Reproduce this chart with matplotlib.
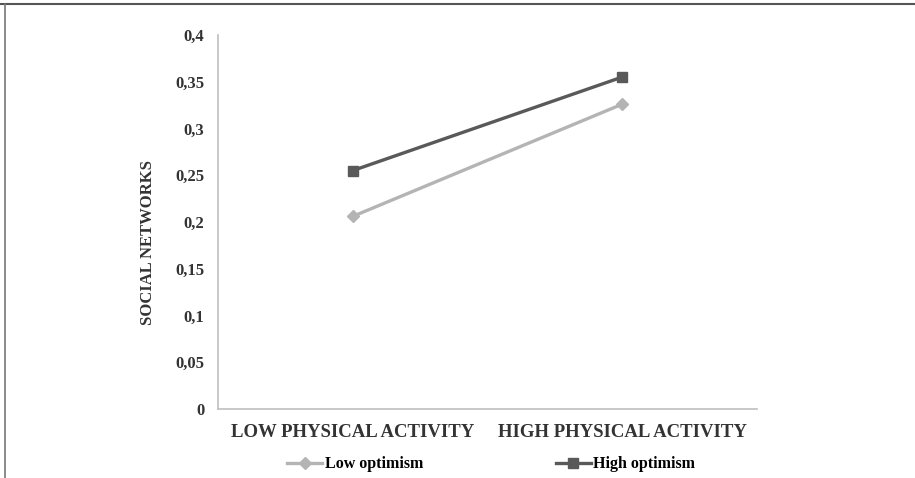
import numpy as np
import matplotlib.pyplot as plt
from matplotlib.lines import Line2D

categories = ['LOW PHYSICAL ACTIVITY', 'HIGH PHYSICAL ACTIVITY']
low_opt = [0.206, 0.326]
high_opt = [0.255, 0.355]
yticks = [0, 0.05, 0.1, 0.15, 0.2, 0.25, 0.3, 0.35, 0.4]

plt.rcParams['font.family'] = 'Liberation Serif'
plt.rcParams['font.weight'] = 'bold'
plt.rcParams['axes.labelweight'] = 'bold'

fig = plt.figure(figsize=(9.15, 4.78), dpi=100)
ax = fig.add_axes([0.2383, 0.1444, 0.589, 0.7824])

x = np.arange(len(categories)) + 0.5
ax.plot(x, low_opt, color='#b4b4b4', lw=2.4, marker='D', ms=6.5, label='Low optimism')
ax.plot(x, high_opt, color='#595959', lw=2.4, marker='s', ms=7.5, label='High optimism')

ax.set_xlim(0, 2)
ax.set_ylim(0, 0.4)
ax.set_xticks(x)
ax.set_xticklabels(categories, fontsize=13.5, color='#333333')
ax.set_yticks(yticks)
ax.set_yticklabels([('%g' % v).replace('.', ',') for v in yticks], fontsize=12, color='#333333')
ax.tick_params(length=0, pad=10)
ax.tick_params(axis='x', pad=11)
for s in ['top', 'right']:
    ax.spines[s].set_visible(False)
for s in ['left', 'bottom']:
    ax.spines[s].set_color('#bfbfbf')
    ax.spines[s].set_linewidth(1.2)
ax.set_ylabel('SOCIAL NETWORKS', fontsize=12, color='#333333')
ax.yaxis.set_label_coords(-0.115, 0.444)

fig.legend(loc='center', bbox_to_anchor=(0.537, 0.029), ncol=2, frameon=False,
           fontsize=11.5, columnspacing=8.3, handlelength=2.2, handletextpad=0.15)

# page frame lines
fig.add_artist(Line2D([0, 1], [0.991, 0.991], color='#555555', lw=1.5, transform=fig.transFigure))
fig.add_artist(Line2D([0.005, 0.005], [0, 0.991], color='#777777', lw=1.2, transform=fig.transFigure))

fig.savefig('out.png', dpi=100)
